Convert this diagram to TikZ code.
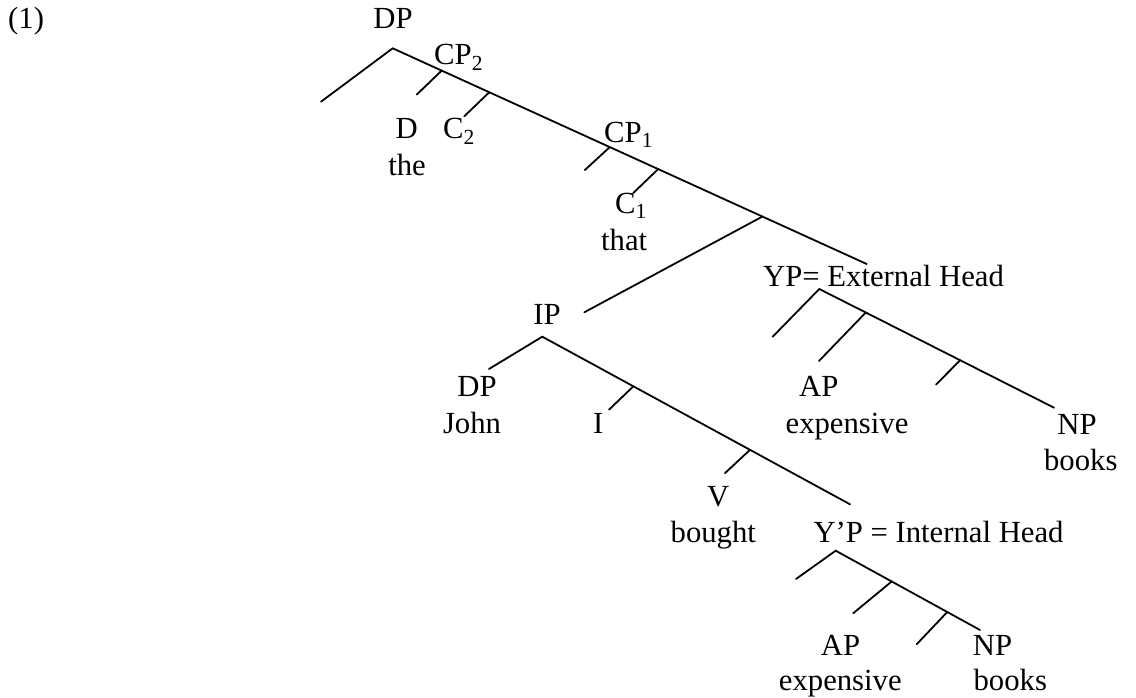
\documentclass[tikz,border=0pt]{standalone}
\usepackage{fontspec}
\setmainfont{Liberation Serif}
\usetikzlibrary{calc}
\begin{document}
\begin{tikzpicture}[x=1pt,y=-1pt,
  lbl/.style={inner sep=0pt,anchor=base,font=\fontsize{30.7}{36}\selectfont},
  lblw/.style={lbl,anchor=base west},
  branch/.style={line width=1.8pt,line cap=round}]
\useasboundingbox[fill=white] (0,0) rectangle (1136,698);
% labels
\node[lblw] (ex) at (8,29) {(1)};
\node[lbl] (dptop) at (393,29) {DP};
\node[lblw] (cp2) at (434,65) {CP\textsubscript{2}};
\node[lbl] (d) at (406.7,139) {D};
\node[lbl] (the) at (407,176) {the};
\node[lblw] (c2) at (443,139) {C\textsubscript{2}};
\node[lblw] (cp1) at (604,142.3) {CP\textsubscript{1}};
\node[lblw] (c1) at (615,213.3) {C\textsubscript{1}};
\node[lbl] (that) at (624.2,250) {that};
\node[lblw] (yp) at (763,286.7) {YP= External Head};
\node[lbl] (ip) at (547,324) {IP};
\node[lbl] (dpj) at (477,396.7) {DP};
\node[lbl] (john) at (472,433.3) {John};
\node[lbl] (i) at (598.3,433.3) {I};
\node[lbl] (ap1) at (818.7,396.7) {AP};
\node[lbl] (exp1) at (847,433.3) {expensive};
\node[lbl] (np1) at (1077,434) {NP};
\node[lbl] (books1) at (1080.8,470) {books};
\node[lbl] (v) at (718.3,506.7) {V};
\node[lbl] (bought) at (713.3,542.7) {bought};
\node[lblw] (ypi) at (813.3,542.7) {Y’P = Internal Head};
\node[lbl] (ap2) at (840.5,655) {AP};
\node[lbl] (exp2) at (840.3,690) {expensive};
\node[lbl] (np2) at (992.5,655) {NP};
\node[lbl] (books2) at (1010.3,690) {books};
% top DP tree
\coordinate (dp) at (392.7,48.3);
\coordinate (dpL) at (321,101.7);
\coordinate (dpR) at (866.7,264);
\coordinate (t1) at ($(dp)!0.1034!(dpR)$);
\coordinate (t2) at ($(dp)!0.2038!(dpR)$);
\coordinate (t3) at ($(dp)!0.458!(dpR)$);
\coordinate (t4) at ($(dp)!0.56!(dpR)$);
\coordinate (b1) at ($(dp)!0.78!(dpR)$);
\coordinate (t1e) at ($(t1)+(-25,24)$);
\coordinate (t2e) at ($(t2)+(-25,24)$);
\coordinate (t3e) at ($(t3)+(-25,23)$);
\coordinate (t4e) at ($(t4)+(-25,24)$);
\coordinate (b1e) at (584.3,312.3);
\draw[branch] (dpL) -- (dp) -- (dpR);
\draw[branch] (t1) -- (t1e);
\draw[branch] (t2) -- (t2e);
\draw[branch] (t3) -- (t3e);
\draw[branch] (t4) -- (t4e);
\draw[branch] (b1) -- (b1e);
% YP subtree
\coordinate (y) at (819.3,289);
\coordinate (yL) at (772.7,336.7);
\coordinate (yR) at (1054,407.7);
\coordinate (y1) at ($(y)!0.198!(yR)$);
\coordinate (y2) at ($(y)!0.6!(yR)$);
\coordinate (y1e) at ($(y1)+(-46.7,48.4)$);
\coordinate (y2e) at ($(y2)+(-24,24.3)$);
\draw[branch] (yL) -- (y) -- (yR);
\draw[branch] (y1) -- (y1e);
\draw[branch] (y2) -- (y2e);
% IP subtree
\coordinate (ipa) at (542.3,336.7);
\coordinate (ipL) at (489,369);
\coordinate (ipR) at (850,504.3);
\coordinate (i1) at ($(ipa)!0.296!(ipR)$);
\coordinate (i2) at ($(ipa)!0.675!(ipR)$);
\coordinate (i1e) at ($(i1)+(-24.3,23.3)$);
\coordinate (i2e) at ($(i2)+(-25,23.3)$);
\draw[branch] (ipL) -- (ipa) -- (ipR);
\draw[branch] (i1) -- (i1e);
\draw[branch] (i2) -- (i2e);
% Y'P subtree
\coordinate (z) at (835.7,550.7);
\coordinate (zL) at (796,579);
\coordinate (zR) at (980,630);
\coordinate (z1) at ($(z)!0.388!(zR)$);
\coordinate (z2) at ($(z)!0.773!(zR)$);
\coordinate (z1e) at ($(z1)+(-38.4,31.7)$);
\coordinate (z2e) at ($(z2)+(-30.6,32.3)$);
\draw[branch] (zL) -- (z) -- (zR);
\draw[branch] (z1) -- (z1e);
\draw[branch] (z2) -- (z2e);
\end{tikzpicture}
\end{document}
